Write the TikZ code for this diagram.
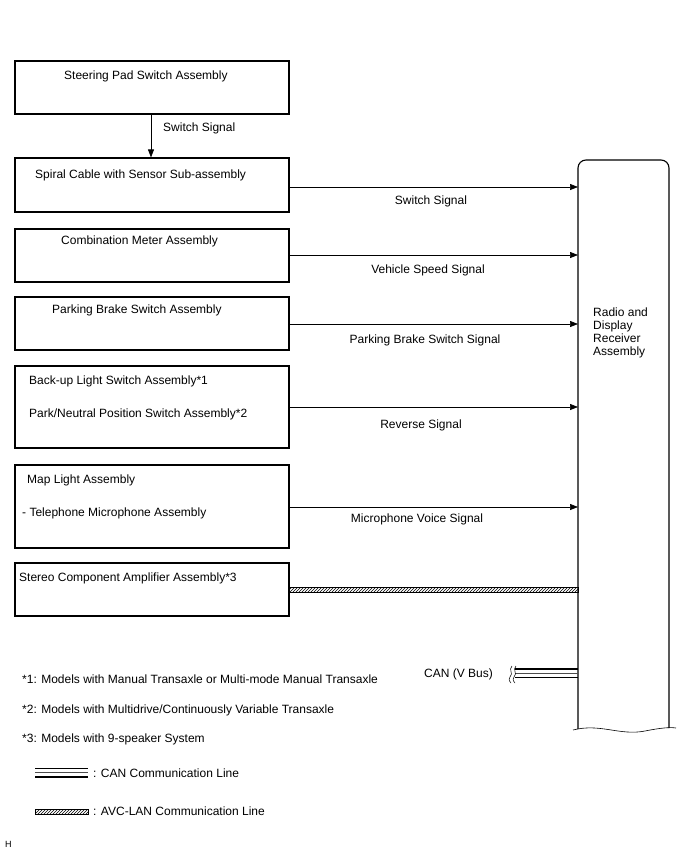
\documentclass[tikz,border=0pt]{standalone}
\usepackage{fontspec}
\setmainfont{Liberation Sans}
\usetikzlibrary{arrows.meta,patterns}
\begin{document}
\begin{tikzpicture}[x=1pt,y=-1pt,
  font=\fontsize{12}{14}\selectfont,
  blk/.style={draw,line width=1.1pt},
  lbl/.style={inner sep=0pt,anchor=base west},
  sig/.style={draw,line width=0.7pt,-{Triangle[length=8pt,width=6pt]}},
  hatchline/.style={draw,line width=0.6pt,pattern=north east lines},
  canthick/.style={line width=1.8pt},
  canthin/.style={line width=0.8pt,draw=black!70}]
\useasboundingbox (0,0) rectangle (688,852);
% left boxes
\node[blk,minimum width=274pt,minimum height=53pt,inner sep=0pt] (b1) at (152,87.5) {};
\node[blk,minimum width=274pt,minimum height=54pt,inner sep=0pt] (b2) at (152,185) {};
\node[blk,minimum width=274pt,minimum height=53pt,inner sep=0pt] (b3) at (152,255.5) {};
\node[blk,minimum width=274pt,minimum height=53pt,inner sep=0pt] (b4) at (152,323.5) {};
\node[blk,minimum width=274pt,minimum height=82pt,inner sep=0pt] (b5) at (152,407) {};
\node[blk,minimum width=274pt,minimum height=83pt,inner sep=0pt] (b6) at (152,506.5) {};
\node[blk,minimum width=274pt,minimum height=53pt,inner sep=0pt] (b7) at (152,589.5) {};
% box texts
\node[lbl] (t1) at (64,79) {Steering Pad Switch Assembly};
\node[lbl] (t2) at (35,178) {Spiral Cable with Sensor Sub-assembly};
\node[lbl] (t3) at (61,244) {Combination Meter Assembly};
\node[lbl] (t4) at (52,313) {Parking Brake Switch Assembly};
\node[lbl] (t5a) at (29,384) {Back-up Light Switch Assembly*1};
\node[lbl] (t5b) at (29,417) {Park/Neutral Position Switch Assembly*2};
\node[lbl] (t6a) at (27,483) {Map Light Assembly};
\node[lbl] (t6b) at (22,516) {- Telephone Microphone Assembly};
\node[lbl] (t7) at (19,581) {Stereo Component Amplifier Assembly*3};
% receiver
\coordinate (rtl) at (578,160);
\coordinate (rtr) at (669,160);
\draw[line width=1.1pt,rounded corners=8pt] (578,729) -- (rtl) -- (rtr) -- (669,728);
\draw[line width=0.6pt] (573,730) .. controls (600,723) and (620,736) .. (645,731) .. controls (660,728) and (670,727) .. (676,728);
\node[inner sep=0pt,anchor=north west,align=left,font=\fontsize{12}{13}\selectfont] (rx) at (593,308) {Radio and\\Display\\Receiver\\Assembly};
% vertical signal
\draw[sig] (b1.south -| 151,0) -- (b2.north -| 151,0);
\node[lbl] (s0) at (163,131) {Switch Signal};
% horizontal signals
\coordinate (a2) at (578,187);
\coordinate (a3) at (578,255);
\coordinate (a4) at (578,324);
\coordinate (a5) at (578,407);
\coordinate (a6) at (578,507);
\draw[sig] (b2.east |- a2) -- (a2);
\draw[sig] (b3.east |- a3) -- (a3);
\draw[sig] (b4.east |- a4) -- (a4);
\draw[sig] (b5.east |- a5) -- (a5);
\draw[sig] (b6.east |- a6) -- (a6);
\node[inner sep=0pt,anchor=base] (s2) at (431,204) {Switch Signal};
\node[inner sep=0pt,anchor=base] (s3) at (428,273) {Vehicle Speed Signal};
\node[inner sep=0pt,anchor=base] (s4) at (425,343) {Parking Brake Switch Signal};
\node[inner sep=0pt,anchor=base] (s5) at (421,428) {Reverse Signal};
\node[inner sep=0pt,anchor=base] (s6) at (417,522) {Microphone Voice Signal};
% AVC-LAN
\coordinate (avc) at (578,590);
\path[hatchline] (b7.east |- 0,587.5) rectangle (578,592.5);
% CAN
\coordinate (canend) at (515,673);
\draw[canthick] (canend |- 0,669) -- (578,669);
\draw[canthin] (canend |- 0,673) -- (578,673);
\draw[canthick] (canend |- 0,677.5) -- (578,677.5);
\draw[line width=0.5pt] (512,666) .. controls (508,670) and (514,673) .. (510,677) .. controls (508,680) and (510,682) .. (511,683);
\draw[line width=0.5pt] (516,666) .. controls (512,670) and (518,673) .. (514,677) .. controls (512,680) and (514,682) .. (515,683);
\node[lbl] (cl) at (424,677) {CAN (V Bus)};
% footnotes
\node[lbl] (f1) at (22,683) {*1: Models with Manual Transaxle or Multi-mode Manual Transaxle};
\node[lbl] (f2) at (22,713) {*2: Models with Multidrive/Continuously Variable Transaxle};
\node[lbl] (f3) at (22,742) {*3: Models with 9-speaker System};
% legend
\draw[canthick] (35,768.5) -- (88,768.5);
\draw[canthin] (35,772.5) -- (88,772.5);
\draw[canthick] (35,777) -- (88,777);
\node[lbl] (l1) at (93,777) {: CAN Communication Line};
\path[hatchline] (35,809.5) rectangle (88,814.5);
\node[lbl] (l2) at (93,815) {: AVC-LAN Communication Line};
\node[lbl,font=\fontsize{9}{10}\selectfont] (h) at (5,847) {H};
\end{tikzpicture}
\end{document}
